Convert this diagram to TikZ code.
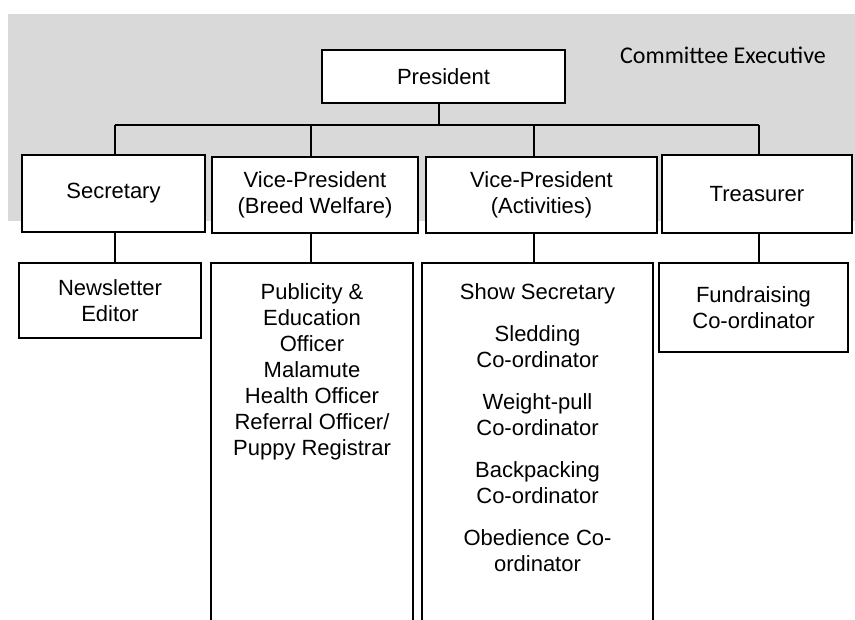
\documentclass[tikz,border=0pt]{standalone}
\usepackage{fontspec}
\setmainfont{Liberation Sans}
\newfontfamily\calibri{Carlito}
\tikzset{
  post/.style={draw, line width=1.2pt, fill=white, inner sep=0pt, align=center,
    font=\fontsize{16.5}{19.5}\selectfont},
  duties/.style={inner sep=0pt, align=center, anchor=north,
    font=\fontsize{16.5}{19.5}\selectfont},
  link/.style={line width=1.2pt}
}

\begin{document}
\begin{tikzpicture}[x=0.75pt, y=-0.75pt]
            \clip (0,0) rectangle (855,619);
            \fill[black!15] (8,14) rectangle (855,221);
            \node[font=\calibri\fontsize{18}{20}\selectfont] (exec) at (723,55) {Committee Executive};

            \node[post, minimum width=182.25pt, minimum height=39.75pt] (pres) at (443.5,76.5) {President};

            \node[post, minimum width=137.25pt, minimum height=57.75pt] (sec) at (113.5,193.5) {Secretary};
            \node[post, minimum width=154.5pt, minimum height=57pt] (vpbw) at (315,195) {Vice-President\\(Breed Welfare)};
            \node[post, minimum width=173.25pt, minimum height=57pt] (vpact) at (541.5,195) {Vice-President\\(Activities)};
            \node[post, minimum width=142.5pt, minimum height=58.5pt] (treas) at (757,194) {Treasurer};

            \node[post, minimum width=136.5pt, minimum height=56.25pt] (news) at (110,300.5) {Newsletter\\Editor};
            \node[post, minimum width=151.5pt, minimum height=290.25pt] (pub) at (312,456.5) {};
            \node[post, minimum width=173.25pt, minimum height=290.25pt] (show) at (537.5,456.5) {};
            \node[post, minimum width=141.75pt, minimum height=66.75pt] (fund) at (753.5,307.5) {Fundraising\\Co-ordinator};

            \node[duties] (pubtext) at (312,283) {Publicity \&\\Education\\Officer\\Malamute\\Health Officer\\Referral Officer/\\Puppy Registrar};
            \node[duties] (showtext) at (537.5,283) {Show Secretary\\[12pt]Sledding\\Co-ordinator\\[12pt]Weight-pull\\Co-ordinator\\[12pt]Backpacking\\Co-ordinator\\[12pt]Obedience Co-\\ordinator};

            % bus and stems
            \coordinate (bus) at (0,125);
            \draw[link] (pres.south -| 439,0) -- (bus -| 439,0);
            \draw[link] (bus -| 115,0) -- (bus -| 759,0);
            \foreach \a/\b/\s in {sec/news/115, vpbw/pub/311, vpact/show/534, treas/fund/759}{
              \draw[link] (bus -| \s,0) -- (\a.north -| \s,0);
              \draw[link] (\a.south -| \s,0) -- (\b.north -| \s,0);
            }
        \end{tikzpicture}
\end{document}
